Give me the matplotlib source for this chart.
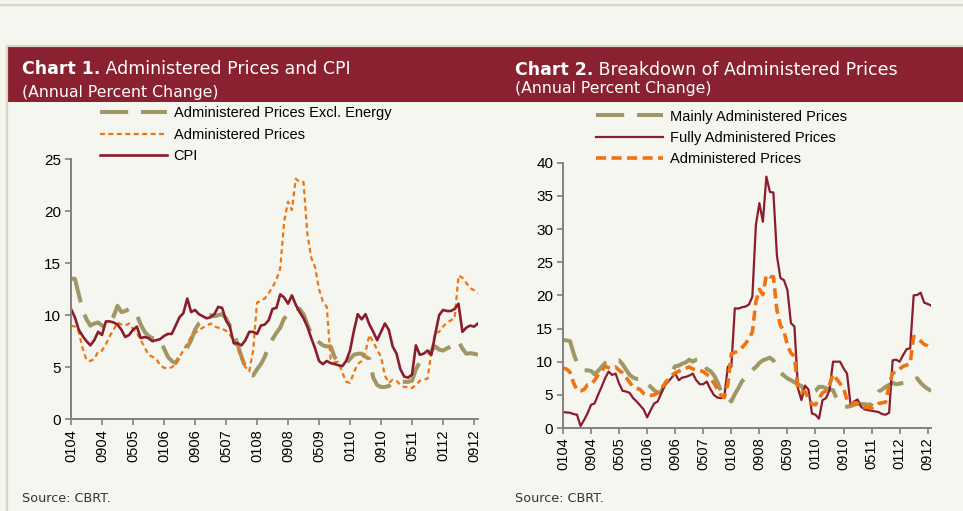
import matplotlib
matplotlib.use("Agg")
import matplotlib.pyplot as plt
from matplotlib.lines import Line2D
from matplotlib.patches import Rectangle
from matplotlib.text import Annotation
import numpy as np

# ---------------- data ----------------
tick_labels = ['0104', '0904', '0505', '0106', '0906', '0507', '0108',
               '0908', '0509', '0110', '0910', '0511', '0112', '0912']

cpi = [10.6, 9.8, 8.6, 8.0, 7.5, 7.1, 7.6, 8.4, 8.1, 9.4,
       9.4, 9.3, 9.1, 8.6, 7.9, 8.1, 8.6, 8.9, 7.8, 7.9,
       7.8, 7.5, 7.6, 7.7, 8.0, 8.2, 8.2, 9.0, 9.8, 10.2,
       11.6, 10.3, 10.5, 10.1, 9.9, 9.7, 9.8, 10.1, 10.8, 10.7,
       9.5, 8.9, 7.3, 7.3, 7.1, 7.6, 8.4, 8.4, 8.2, 9.0,
       9.1, 9.5, 10.6, 10.7, 12.0, 11.7, 11.1, 11.9, 11.0, 10.3,
       9.7, 8.9, 7.8, 6.8, 5.6, 5.3, 5.6, 5.4, 5.3, 5.2,
       5.1, 5.6, 6.6, 8.5, 10.1, 9.6, 10.1, 9.1, 8.4, 7.6,
       8.4, 9.2, 8.6, 7.0, 6.3, 4.8, 4.1, 4.0, 4.3, 7.1,
       6.2, 6.3, 6.6, 6.2, 8.2, 10.0, 10.5, 10.4, 10.4, 10.6,
       11.1, 8.4, 8.8, 9.0, 8.9, 9.2]

admin = [9.0, 8.9, 8.4, 6.8, 5.7, 5.6, 5.8, 6.5, 6.6, 7.2,
         8.0, 8.6, 9.3, 9.1, 9.0, 9.2, 8.7, 8.3, 7.6, 6.9,
         6.2, 6.0, 5.8, 5.2, 4.95, 4.9, 5.0, 5.3, 6.0, 6.6,
         7.3, 7.9, 8.3, 8.55, 8.8, 9.0, 9.2, 8.9, 8.8, 8.7,
         8.5, 8.1, 7.6, 6.8, 5.9, 5.0, 4.6, 6.6, 11.2, 11.4,
         11.6, 12.1, 12.7, 13.4, 14.5, 19.0, 20.9, 20.1, 23.1, 22.8,
         22.8, 17.8, 15.5, 14.6, 12.5, 11.3, 10.8, 5.8, 5.5, 5.5,
         4.5, 3.6, 3.5, 4.5, 5.3, 5.6, 6.5, 8.1, 7.4, 6.7,
         6.0, 4.2, 3.5, 3.8, 3.7, 3.3, 3.1, 3.1, 3.0, 3.3,
         3.7, 3.8, 3.9, 6.5, 8.3, 8.4, 8.9, 9.3, 9.5, 9.7,
         13.8, 13.6, 13.1, 12.6, 12.4, 12.1]

excl_energy = [13.5, 13.5, 12.0, 10.5, 9.6, 9.0, 9.2, 9.3, 9.0, 8.9,
               9.3, 9.9, 10.9, 10.3, 10.4, 10.6, 10.5, 10.0, 9.1, 8.4,
               8.0, 7.8, 7.8, 7.6, 6.8, 6.0, 5.6, 5.4, 6.0, 6.4,
               6.9, 7.6, 8.6, 9.2, 9.5, 9.9, 10.0, 9.9, 10.0, 10.1,
               9.7, 9.0, 8.3, 7.2, 6.0, 5.0, 4.4, 4.2, 4.8, 5.3,
               6.0, 7.0, 7.7, 8.3, 8.8, 9.7, 10.0, 10.4, 10.6, 10.6,
               10.1, 9.1, 8.2, 7.7, 7.4, 7.1, 7.0, 7.0, 6.0, 5.5,
               5.5, 5.4, 5.8, 6.2, 6.3, 6.3, 6.0, 5.8, 4.0, 3.3,
               3.1, 3.1, 3.2, 3.4, 3.6, 3.6, 3.6, 3.6, 3.7, 4.8,
               5.5, 5.7, 6.0, 6.6, 7.0, 6.7, 6.6, 6.8, 7.0, 7.2,
               7.5, 6.8, 6.3, 6.35, 6.3, 6.2]

mainly = [13.3, 13.2, 13.1, 11.3, 9.8, 9.0, 8.7, 8.7, 8.6, 8.1,
          8.6, 9.2, 9.8, 9.9, 9.8, 10.1, 10.2, 9.6, 8.8, 8.0,
          7.6, 7.4, 7.4, 7.3, 6.7, 6.2, 5.7, 5.3, 5.5, 6.6,
          7.5, 8.5, 9.3, 9.4, 9.7, 9.9, 10.3, 10.0, 10.3, 10.35,
          10.0, 8.9, 8.6, 8.0, 7.0, 5.6, 5.0, 4.5, 4.0, 5.1,
          6.0, 7.0, 7.6, 8.3, 8.75, 9.2, 9.8, 10.2, 10.4, 10.6,
          10.2, 9.3, 8.4, 7.9, 7.5, 7.2, 6.9, 6.6, 6.3, 5.6,
          5.4, 5.3, 5.6, 6.2, 6.2, 6.0, 5.8, 5.7, 4.5, 3.8,
          3.3, 3.2, 3.3, 3.5, 3.7, 3.6, 3.6, 3.5, 3.6, 4.7,
          5.5, 5.8, 6.2, 6.5, 6.8, 6.6, 6.7, 6.8, 6.9, 7.0,
          7.3, 7.5, 6.8, 6.3, 5.9, 5.6]

fully = [2.4, 2.35, 2.3, 2.1, 2.0, 0.3, 1.2, 2.2, 3.5, 3.7,
         5.0, 6.2, 7.5, 8.5, 8.0, 8.2, 6.7, 5.6, 5.5, 5.3,
         4.5, 4.0, 3.4, 2.8, 1.6, 2.7, 3.7, 4.0, 5.2, 6.4,
         7.0, 7.6, 8.2, 7.2, 7.6, 7.7, 7.9, 8.2, 7.2, 6.6,
         6.6, 7.0, 5.9, 5.0, 4.6, 4.5, 4.7, 9.25, 9.25, 18.05,
         18.0, 18.2, 18.3, 18.6, 19.8, 30.6, 33.9, 31.1, 37.9, 35.6,
         35.5, 26.0, 22.6, 22.3, 20.8, 15.8, 15.3, 6.0, 4.2, 6.4,
         5.8, 2.2, 2.0, 1.4, 4.2, 4.5, 5.7, 10.0, 10.0, 10.0,
         9.0, 8.2, 3.5, 4.0, 4.3, 3.2, 2.8, 2.7, 2.6, 2.5,
         2.4, 2.1, 2.0, 2.3, 10.2, 10.3, 10.0, 11.0, 11.9, 12.0,
         20.0, 20.05, 20.4, 18.9, 18.7, 18.45]

# ---------------- style ----------------
BG = '#f6f6f0'
RED = '#8a1d2c'
ORANGE = '#ee7413'
OLIVE = '#9f9765'
BAND = '#8a2130'
RULE = '#dad7c3'
AXIS = '#808080'
TICKFONT = 'Liberation Sans'
TITLEFONT = 'DejaVu Sans'

W, H = 963, 511
fig = plt.figure(figsize=(W / 100, H / 100), dpi=100, facecolor=BG)


def fx(px):
    return px / W


def fy(py):
    return 1 - py / H


# frame decorations
fig.add_artist(Line2D([0, 1], [fy(5), fy(5)], transform=fig.transFigure,
                      color=RULE, lw=1.6))
fig.add_artist(Line2D([fx(7), 1], [fy(46), fy(46)], transform=fig.transFigure,
                      color=RULE, lw=1.6))
fig.add_artist(Line2D([fx(7), fx(7)], [fy(46), 0], transform=fig.transFigure,
                      color=RULE, lw=1.6))
fig.add_artist(Rectangle((fx(8), fy(102.5)), 1 - fx(8), fy(47.5) - fy(102.5),
                         transform=fig.transFigure, color=BAND, lw=0))

x = np.arange(len(cpi))


def style_axes(ax, ymax, ystep):
    ax.set_facecolor('none')
    ax.set_xlim(0, 105)
    ax.set_ylim(0, ymax)
    ax.set_yticks(np.arange(0, ymax + 0.1, ystep))
    ax.set_xticks(np.arange(0, 105, 8))
    ax.set_xticklabels(tick_labels, rotation=90, fontsize=10.5,
                       family=TICKFONT)
    for lab in ax.get_yticklabels():
        lab.set_fontsize(11)
        lab.set_family(TICKFONT)
    for s in ('top', 'right'):
        ax.spines[s].set_visible(False)
    for s in ('left', 'bottom'):
        ax.spines[s].set_color(AXIS)
        ax.spines[s].set_linewidth(1.4)
    ax.tick_params(direction='out', length=4, width=1.2, color=AXIS,
                   labelcolor='black', pad=3)


LEG = dict(loc='upper left', frameon=False,
           prop={'family': TICKFONT, 'size': 10.5},
           handlelength=4.6, handletextpad=0.45, labelspacing=0.5,
           borderpad=0, borderaxespad=0)

# ---------------- Chart 1 ----------------
ax1 = fig.add_axes([fx(71), fy(419.3), fx(477.9) - fx(71), fy(159) - fy(419.3)])
l1a, = ax1.plot(x, excl_energy, color=OLIVE, lw=2.9,
                ls=(0, (7.0, 3.2)), label='Administered Prices Excl. Energy')
l1b, = ax1.plot(x, admin, color=ORANGE, lw=1.6, ls=(0, (2.2, 1.6)),
                label='Administered Prices')
l1c, = ax1.plot(x, cpi, color=RED, lw=1.9, label='CPI')
style_axes(ax1, 25, 5)
fig.legend(handles=[l1a, l1b, l1c], bbox_to_anchor=(fx(100), fy(106.5)), **LEG)

# ---------------- Chart 2 ----------------
ax2 = fig.add_axes([fx(563), fy(428), fx(931.2) - fx(563), fy(162.7) - fy(428)])
l2a, = ax2.plot(x, mainly, color=OLIVE, lw=2.9, ls=(0, (7.0, 3.2)),
                label='Mainly Administered Prices')
l2b, = ax2.plot(x, fully, color=RED, lw=1.6, label='Fully Administered Prices')
l2c, = ax2.plot(x, admin, color=ORANGE, lw=2.6, ls=(0, (2.8, 1.5)),
                label='Administered Prices')
style_axes(ax2, 40, 5)
fig.legend(handles=[l2a, l2b, l2c], bbox_to_anchor=(fx(596), fy(109.5)), **LEG)


# ---------------- titles ----------------
def title(xpx, ypx, bold, rest, sub, subypx):
    t = fig.text(fx(xpx), fy(ypx), bold, color='white', fontsize=12.5,
                 fontweight='bold', family=TITLEFONT, va='baseline')
    fig.add_artist(Annotation(' ' + rest, xy=(1, 0), xycoords=t,
                              va='bottom', ha='left', color='white',
                              fontsize=12.5, family=TITLEFONT))
    fig.text(fx(xpx), fy(subypx), sub, color='white', fontsize=11.3,
             family=TITLEFONT, va='baseline')


title(22, 74, 'Chart 1.', 'Administered Prices and CPI',
      '(Annual Percent Change)', 97)
title(515, 75, 'Chart 2.', 'Breakdown of Administered Prices',
      '(Annual Percent Change)', 93)

fig.text(fx(22), fy(502), 'Source: CBRT.', fontsize=9.2, family=TITLEFONT,
         color='#333333', va='baseline')
fig.text(fx(515), fy(502), 'Source: CBRT.', fontsize=9.2, family=TITLEFONT,
         color='#333333', va='baseline')

fig.savefig('out.png', dpi=100, facecolor=BG)
